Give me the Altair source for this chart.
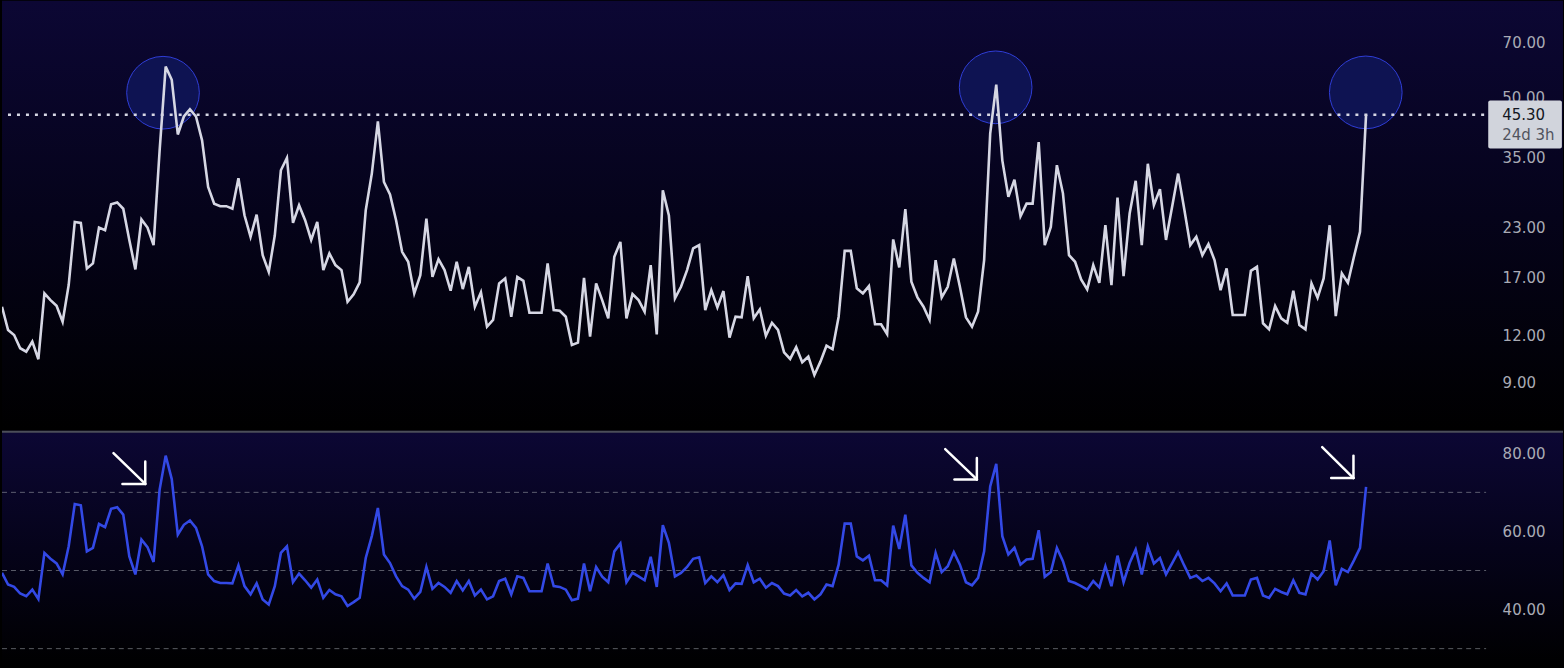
import altair as alt
import pandas as pd

# ---------------- data ----------------
vix = [
    14.24, 12.38, 12.01, 11.09, 10.86, 11.54, 10.38, 15.43, 14.82, 14.33,
    13.01, 16.23, 23.74, 23.6, 17.94, 18.49, 22.95, 22.58, 26.4, 26.7,
    25.7, 21.3, 17.83, 24.1, 22.95, 20.64, 36.5, 60.5, 55.9, 40.2,
    44.8, 46.8, 44.8, 38.8, 29.3, 26.5, 26.1, 26.1, 25.7, 30.9,
    24.7, 21.7, 24.8, 19.43, 17.57, 21.9, 32.4, 34.9, 23.6, 26.25,
    23.98, 21.3, 23.74, 17.76, 19.63, 18.3, 17.76, 14.67, 15.34, 16.49,
    25.47, 31.76, 43.5, 30.2, 28.0, 23.98, 19.82, 18.67, 15.43, 17.23,
    24.2, 17.05, 18.97, 17.76, 15.68, 18.67, 15.84, 18.11, 14.24, 15.53,
    12.63, 13.15, 16.39, 16.89, 13.41, 17.05, 16.65, 13.73, 13.73, 13.73,
    18.49, 13.96, 13.9, 13.41, 11.31, 11.47, 16.95, 11.89, 16.39, 14.82,
    13.28, 19.24, 21.05, 13.28, 15.37, 14.82, 13.82, 18.3, 12.06, 28.7,
    24.7, 14.98, 16.06, 17.76, 20.23, 20.64, 13.96, 15.74, 14.19, 15.65,
    11.82, 13.41, 13.36, 17.13, 13.28, 14.02, 11.96, 12.93, 12.38, 10.82,
    10.40, 11.16, 10.19, 10.54, 9.44, 10.23, 11.26, 11.02, 13.41, 19.94,
    19.94, 15.91, 15.43, 16.13, 12.81, 12.81, 12.08, 21.36, 18.05, 25.63,
    16.55, 15.07, 14.24, 13.15, 18.86, 15.07, 16.06, 19.05, 16.06, 13.36,
    12.63, 13.82, 18.86, 40.4, 54.3, 34.4, 27.6, 30.6, 24.57, 26.5,
    26.5, 38.4, 20.64, 23.04, 33.4, 28.2, 19.43, 18.67, 16.79, 15.81,
    18.3, 16.45, 23.27, 16.23, 27.5, 17.13, 24.97, 30.4, 20.64, 33.7,
    26.25, 28.9, 21.3, 25.98, 31.76, 25.7, 20.64, 21.7, 19.43, 20.76,
    18.86, 15.74, 17.94, 13.55, 13.55, 13.55, 17.68, 18.11, 12.89, 12.43,
    14.3, 13.28, 12.93, 15.68, 12.76, 12.43, 16.39, 15.03, 16.89, 23.27,
    13.46, 17.41, 16.45, 19.24, 22.36, 45.3,
]

rsi = [
    49.4, 46.4, 45.8, 44.1, 43.4, 45.1, 42.7, 54.5, 53.0, 51.8,
    49.0, 56.2, 67.0, 66.7, 54.9, 55.8, 61.9, 61.1, 65.8, 66.2,
    64.3, 53.6, 49.0, 57.9, 56.0, 52.2, 70.7, 79.4, 73.4, 59.2,
    61.7, 62.8, 60.9, 56.2, 49.0, 47.3, 46.8, 46.8, 46.7, 51.3,
    46.0, 43.9, 46.7, 42.6, 41.3, 46.0, 54.5, 56.2, 47.0, 49.2,
    47.5, 45.6, 47.7, 43.0, 45.0, 43.9, 43.4, 40.9, 41.9, 43.0,
    53.2, 58.8, 66.0, 54.1, 51.9, 48.5, 46.0, 45.1, 42.8, 44.5,
    50.9, 45.3, 46.8, 45.8, 44.3, 47.3, 44.9, 47.3, 43.6, 45.1,
    42.6, 43.4, 47.3, 47.9, 43.9, 48.5, 48.1, 44.7, 44.7, 44.7,
    51.8, 46.0, 45.8, 45.1, 42.4, 42.8, 51.8, 44.7, 50.9, 48.4,
    47.0, 54.9, 56.9, 47.0, 49.4, 48.5, 47.5, 53.5, 45.8, 61.6,
    57.1, 48.5, 49.4, 50.9, 53.0, 53.4, 46.8, 48.5, 47.0, 48.8,
    45.0, 46.7, 46.6, 51.4, 47.0, 47.9, 45.6, 46.8, 46.0, 44.1,
    43.6, 45.0, 43.4, 44.3, 42.6, 43.9, 46.4, 46.0, 51.5, 62.0, 62.0,
    53.6, 52.6, 53.8, 47.5, 47.5, 46.2, 61.5, 55.5, 64.3, 51.3,
    49.4, 48.1, 47.0, 54.5, 49.6, 51.1, 54.7, 51.5, 47.0, 46.2,
    48.1, 54.9, 71.5, 77.3, 58.8, 54.1, 55.8, 51.5, 52.8, 53.0,
    60.3, 48.4, 49.6, 55.8, 52.4, 47.3, 46.8, 46.0, 45.1, 47.3,
    45.7, 51.1, 46.0, 53.8, 47.0, 51.9, 55.4, 49.0, 56.2, 51.8,
    53.2, 49.0, 51.8, 54.7, 51.3, 48.1, 48.7,
    47.3, 48.1, 46.7, 44.7, 46.7, 43.6, 43.6, 43.6, 47.7, 48.1,
    43.6, 43.0, 45.3, 44.5, 43.9, 47.5, 44.3, 43.9, 49.2, 47.7,
    49.8, 57.7, 46.2, 50.4, 49.6, 52.6, 55.8, 71.4,
]

upper_ticks = [9, 12, 17, 23, 35, 70]
hidden_tick = [50]
lower_ticks = [40, 60, 80]
rsi_levels = [70, 50, 30]
last_value = [45.30]
last_text = ["45.30"]
countdown_text = ["24d 3h"]

# annotation anchors (in data units: bar index / value)
circle_x = [26.56, 163.9, 224.95]
circle_y = [51.7, 53.4, 51.8]
arrow_tail_x = [18.39, 155.58, 217.76]
arrow_tail_y = [80.05, 81.07, 81.58]
arrow_tip_x = [23.63, 160.80, 222.92]
arrow_tip_y = [72.16, 73.31, 73.67]
arrow_head_left_x = [19.87, 157.11, 219.25]
arrow_head_top_y = [77.91, 78.77, 79.36]

# ---------------- frames ----------------
main_df = pd.DataFrame({"i": list(range(len(vix))), "v": vix})
rsi_df = pd.DataFrame({"i": list(range(len(rsi))), "r": rsi})
circ_df = pd.DataFrame({"i": circle_x, "v": circle_y})
one = pd.DataFrame({"a": [0]})

segs = []
for k in range(3):
    segs.append({"x": arrow_tail_x[k], "y": arrow_tail_y[k], "x2": arrow_tip_x[k], "y2": arrow_tip_y[k]})
    segs.append({"x": arrow_head_left_x[k], "y": arrow_tip_y[k], "x2": arrow_tip_x[k], "y2": arrow_tip_y[k]})
    segs.append({"x": arrow_tip_x[k], "y": arrow_head_top_y[k], "x2": arrow_tip_x[k], "y2": arrow_tip_y[k]})
arrow_df = pd.DataFrame(segs)

W = 1490
H1 = 431
H2 = 237
XMAX = 245.3
FONT = "DejaVu Sans"
LABEL_COLOR = "#a9abb5"

XS = alt.Scale(domain=[0, XMAX], nice=False, zero=False)
YS_UP = alt.Scale(type="log", domain=[6.744, 90.03], nice=False)
YS_LO = alt.Scale(domain=[25.21, 85.75], nice=False, zero=False)

AX_UP = alt.Axis(orient="right", values=upper_ticks, format=".2f", title=None,
                 domain=False, ticks=False, grid=False, labelPadding=13,
                 labelFont=FONT, labelFontSize=15, labelColor=LABEL_COLOR,
                 labelOverlap=False, labelFlush=False, zindex=1)
AX_LO = alt.Axis(orient="right", values=lower_ticks, format=".2f", title=None,
                 domain=False, ticks=False, grid=False, labelPadding=13,
                 labelFont=FONT, labelFontSize=15, labelColor=LABEL_COLOR,
                 labelOverlap=False, labelFlush=False, zindex=1)


def X(f):
    return alt.X(f"{f}:Q", scale=XS, axis=None)


def YU(f):
    return alt.Y(f"{f}:Q", scale=YS_UP, axis=AX_UP)


def YL(f):
    return alt.Y(f"{f}:Q", scale=YS_LO, axis=AX_LO)


grad = alt.LinearGradient(
    gradient="linear",
    stops=[alt.GradientStop(color="#0c0734", offset=0),
           alt.GradientStop(color="#05031a", offset=0.5),
           alt.GradientStop(color="#000000", offset=1)],
    x1=0, x2=0, y1=0, y2=1,
)

# ---------------- upper panel ----------------
bg_up = alt.Chart(one).mark_rect(fill=grad, strokeWidth=0).encode(
    x=alt.value(0), x2=alt.value(1564), y=alt.value(0), y2=alt.value(H1))

circles = alt.Chart(circ_df).mark_circle(
    size=5300, fill="#0e1352", fillOpacity=1, stroke="#2f3dd6", strokeWidth=1, opacity=1
).encode(x=X("i"), y=YU("v"))

dotted = alt.Chart(pd.DataFrame({"v": last_value, "x0": [0], "x1": [245.0]})).mark_rule(
    color="#d6d7e4", strokeWidth=2.5, strokeDash=[3, 6], strokeDashOffset=3
).encode(x=X("x0"), x2="x1:Q", y=YU("v"))

line_up = alt.Chart(main_df).mark_line(
    color="#d6d7e4", strokeWidth=2.6, clip=True, strokeJoin="miter"
).encode(x=X("i"), y=YU("v"))

fifty = alt.Chart(pd.DataFrame({"v": hidden_tick, "x": [247.45], "t": ["50.00"]})).mark_text(
    align="left", baseline="middle", font=FONT, fontSize=15, color=LABEL_COLOR
).encode(x=X("x"), y=YU("v"), text="t:N")

box = alt.Chart(pd.DataFrame({"x": [245.15], "x2": [257.3], "y": [49.3], "y2": [36.97]})).mark_rect(
    fill="#d1d4dc", cornerRadius=2
).encode(x=X("x"), x2="x2:Q", y=YU("y"), y2="y2:Q")

price_txt = alt.Chart(pd.DataFrame({"v": last_value, "x": [247.45], "t": last_text})).mark_text(
    align="left", baseline="middle", font=FONT, fontSize=15, color="#131722"
).encode(x=X("x"), y=YU("v"), text="t:N")

count_txt = alt.Chart(pd.DataFrame({"v": [40.0], "x": [247.45], "t": countdown_text})).mark_text(
    align="left", baseline="middle", font=FONT, fontSize=15, color="#50535e"
).encode(x=X("x"), y=YU("v"), text="t:N")

upper = alt.layer(bg_up, circles, dotted, line_up, fifty, box, price_txt, count_txt).properties(
    width=W, height=H1)

# ---------------- lower panel ----------------
bg_lo = alt.Chart(one).mark_rect(fill=grad, strokeWidth=0).encode(
    x=alt.value(0), x2=alt.value(1564), y=alt.value(0), y2=alt.value(H2))

sep = alt.Chart(one).mark_rule(color="#4b4e58", strokeWidth=2).encode(
    x=alt.value(0), x2=alt.value(1564), y=alt.value(1))

levels = alt.Chart(pd.DataFrame({"r": rsi_levels, "x0": [0] * 3, "x1": [244.8] * 3})).mark_rule(
    color="#9598a1", opacity=0.6, strokeWidth=1, strokeDash=[5, 4]
).encode(x=X("x0"), x2="x1:Q", y=YL("r"))

line_lo = alt.Chart(rsi_df).mark_line(
    color="#3349e6", strokeWidth=2.6, clip=True
).encode(x=X("i"), y=YL("r"))

arrows = alt.Chart(arrow_df).mark_rule(color="#ffffff", strokeWidth=2.5, strokeCap="round").encode(
    x=X("x"), x2="x2:Q", y=YL("y"), y2="y2:Q")

lower = alt.layer(bg_lo, sep, levels, line_lo, arrows).properties(width=W, height=H2)

chart = alt.vconcat(upper, lower, spacing=0).properties(
    padding=0, background="#000000"
).configure_view(strokeWidth=0, stroke="transparent")

chart.save("out.html", embed_options={"renderer": "svg", "actions": False})
